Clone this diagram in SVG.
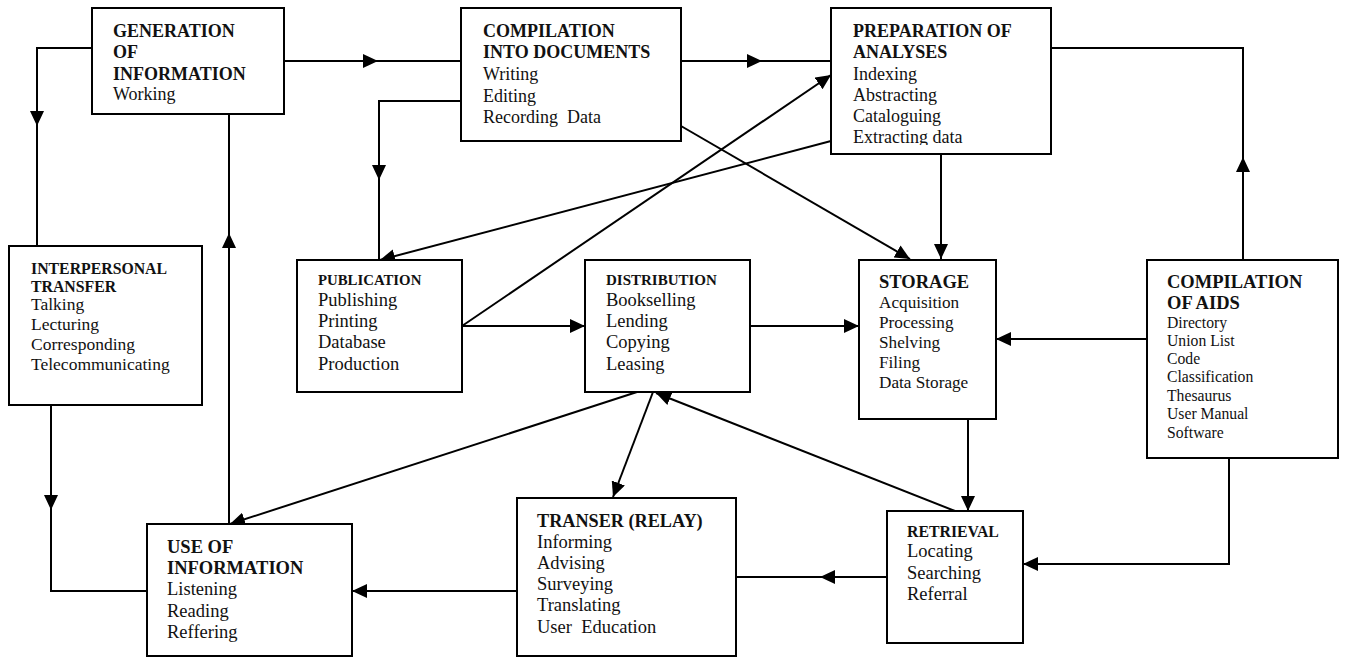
<svg xmlns="http://www.w3.org/2000/svg" width="1345" height="657" viewBox="0 0 1345 657">
<style>
  .box { fill: #fff; stroke: #000; stroke-width: 2; }
  .con { fill: none; stroke: #000; stroke-width: 2; }
  .arr { fill: none; stroke: #000; stroke-width: 2; marker-end: url(#ah); }
  text { font-family: "Liberation Serif", "Times New Roman", serif; fill: #111; }
  .b { font-weight: bold; }
</style>
<defs>
  <marker id="ah" markerUnits="userSpaceOnUse" markerWidth="16" markerHeight="14" refX="15" refY="7" orient="auto">
    <path d="M0,0 L15,7 L0,14 z" fill="#000"/>
  </marker>
  <clipPath id="prepClip"><rect x="831" y="8" width="220" height="137"/></clipPath>
</defs>

<g id="connectors">
  <path class="arr" d="M92,48 H37 V126"/>
  <path class="con" d="M37,126 V246"/>
  <path class="arr" d="M284,61 H378"/>
  <path class="con" d="M378,61 H461"/>
  <path class="arr" d="M461,101 H379 V180"/>
  <path class="con" d="M379,180 V260"/>
  <path class="arr" d="M229,524 V233"/>
  <path class="con" d="M229,233 V114"/>
  <path class="arr" d="M681,61 H762"/>
  <path class="con" d="M762,61 H831"/>
  <path class="arr" d="M681,126 L910,259"/>
  <path class="arr" d="M831,141 L380,260"/>
  <path class="arr" d="M462,326 L831,75"/>
  <path class="arr" d="M1243,260 V157"/>
  <path class="con" d="M1243,157 V48 H1051"/>
  <path class="arr" d="M941,154 V259"/>
  <path class="arr" d="M1147,339 H996"/>
  <path class="arr" d="M462,326 H585"/>
  <path class="arr" d="M750,326 H859"/>
  <path class="arr" d="M637,392 L230,524"/>
  <path class="arr" d="M653,392 L613,497"/>
  <path class="arr" d="M955,511 L656,393"/>
  <path class="arr" d="M968,419 V511"/>
  <path class="arr" d="M1229,458 V564 H1023"/>
  <path class="arr" d="M887,577 H820"/>
  <path class="con" d="M820,577 H736"/>
  <path class="arr" d="M517,591 H352"/>
  <path class="arr" d="M51,405 V510"/>
  <path class="con" d="M51,510 V591 H147"/>
</g>

<g id="generation">
  <rect class="box" x="92" y="8" width="192" height="106"/>
  <text x="113" y="37" class="b" font-size="18">GENERATION</text>
  <text x="113" y="58" class="b" font-size="18">OF</text>
  <text x="113" y="80" class="b" font-size="18">INFORMATION</text>
  <text x="113" y="100" font-size="18">Working</text>
</g>

<g id="compilation-docs">
  <rect class="box" x="461" y="8" width="220" height="133"/>
  <text x="483" y="37" class="b" font-size="18">COMPILATION</text>
  <text x="483" y="58" class="b" font-size="18">INTO DOCUMENTS</text>
  <text x="483" y="80" font-size="18">Writing</text>
  <text x="483" y="101.5" font-size="18">Editing</text>
  <text x="483" y="123" font-size="18" xml:space="preserve">Recording  Data</text>
</g>

<g id="preparation">
  <rect class="box" x="831" y="8" width="220" height="146"/>
  <g clip-path="url(#prepClip)">
    <text x="853" y="37" class="b" font-size="18">PREPARATION OF</text>
    <text x="853" y="58" class="b" font-size="18">ANALYSES</text>
    <text x="853" y="79.5" font-size="18">Indexing</text>
    <text x="853" y="101" font-size="18">Abstracting</text>
    <text x="853" y="122" font-size="18">Cataloguing</text>
    <text x="853" y="142.5" font-size="18">Extracting data</text>
  </g>
</g>

<g id="interpersonal">
  <rect class="box" x="9" y="246" width="193" height="159"/>
  <text x="31" y="273.5" class="b" font-size="15.8">INTERPERSONAL</text>
  <text x="31" y="292" class="b" font-size="15.8">TRANSFER</text>
  <text x="31" y="310" font-size="17.5">Talking</text>
  <text x="31" y="330" font-size="17.5">Lecturing</text>
  <text x="31" y="350" font-size="17.5">Corresponding</text>
  <text x="31" y="370" font-size="17.5">Telecommunicating</text>
</g>

<g id="publication">
  <rect class="box" x="297" y="260" width="165" height="132"/>
  <text x="318" y="285" class="b" font-size="14.8">PUBLICATION</text>
  <text x="318" y="306" font-size="18.5">Publishing</text>
  <text x="318" y="327" font-size="18.5">Printing</text>
  <text x="318" y="348.3" font-size="18.5">Database</text>
  <text x="318" y="370" font-size="18.5">Production</text>
</g>

<g id="distribution">
  <rect class="box" x="585" y="260" width="165" height="132"/>
  <text x="606" y="285" class="b" font-size="15">DISTRIBUTION</text>
  <text x="606" y="306" font-size="18.5">Bookselling</text>
  <text x="606" y="327" font-size="18.5">Lending</text>
  <text x="606" y="348.3" font-size="18.5">Copying</text>
  <text x="606" y="370" font-size="18.5">Leasing</text>
</g>

<g id="storage">
  <rect class="box" x="859" y="260" width="137" height="159"/>
  <text x="879" y="288" class="b" font-size="18.5">STORAGE</text>
  <text x="879" y="307.5" font-size="17.2">Acquisition</text>
  <text x="879" y="328" font-size="17.2">Processing</text>
  <text x="879" y="348" font-size="17.2">Shelving</text>
  <text x="879" y="368" font-size="17.2">Filing</text>
  <text x="879" y="388" font-size="17.2">Data Storage</text>
</g>

<g id="compilation-aids">
  <rect class="box" x="1147" y="260" width="191" height="198"/>
  <text x="1167" y="287.5" class="b" font-size="18.5">COMPILATION</text>
  <text x="1167" y="308.5" class="b" font-size="18.5">OF AIDS</text>
  <text x="1167" y="328" font-size="15.7">Directory</text>
  <text x="1167" y="346" font-size="15.7">Union List</text>
  <text x="1167" y="364" font-size="15.7">Code</text>
  <text x="1167" y="382" font-size="15.7">Classification</text>
  <text x="1167" y="400.5" font-size="15.7">Thesaurus</text>
  <text x="1167" y="419" font-size="15.7">User Manual</text>
  <text x="1167" y="437.5" font-size="15.7">Software</text>
</g>

<g id="use-of-information">
  <rect class="box" x="147" y="524" width="205" height="132"/>
  <text x="167" y="553" class="b" font-size="18.5">USE OF</text>
  <text x="167" y="574" class="b" font-size="18.5">INFORMATION</text>
  <text x="167" y="595" font-size="18.5">Listening</text>
  <text x="167" y="616.5" font-size="18.5">Reading</text>
  <text x="167" y="638" font-size="18.5">Reffering</text>
</g>

<g id="transfer-relay">
  <rect class="box" x="517" y="498" width="219" height="158"/>
  <text x="537" y="527" class="b" font-size="18.2">TRANSER (RELAY)</text>
  <text x="537" y="547.5" font-size="18.5">Informing</text>
  <text x="537" y="568.5" font-size="18.5">Advising</text>
  <text x="537" y="589.5" font-size="18.5">Surveying</text>
  <text x="537" y="611" font-size="18.5">Translating</text>
  <text x="537" y="632.5" font-size="18.5" xml:space="preserve">User  Education</text>
</g>

<g id="retrieval">
  <rect class="box" x="887" y="511" width="136" height="132"/>
  <text x="907" y="537" class="b" font-size="15.8">RETRIEVAL</text>
  <text x="907" y="557" font-size="18.5">Locating</text>
  <text x="907" y="579" font-size="18.5">Searching</text>
  <text x="907" y="600" font-size="18.5">Referral</text>
</g>
</svg>
